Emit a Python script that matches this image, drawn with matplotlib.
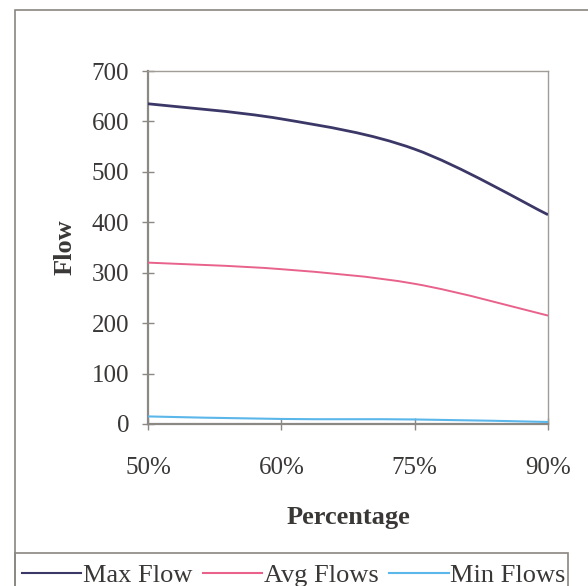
import matplotlib
matplotlib.use("Agg")
import matplotlib.pyplot as plt
from matplotlib.path import Path
from matplotlib.patches import PathPatch, Rectangle
from matplotlib.lines import Line2D

# Flow by percentage
categories = ["50%", "60%", "75%", "90%"]
max_flow = [635, 605, 545, 415]
avg_flows = [320, 307, 278, 215]
min_flows = [15, 10, 9, 4]

series_names = ["Max Flow", "Avg Flows", "Min Flows"]
series_colors = ["#3b3867", "#e8628c", "#5bb6ea"]

plt.rcParams["font.family"] = ["Liberation Serif", "DejaVu Serif"]
text_color = "#3a3836"
axis_color = "#8c8884"

W, H = 588, 586
fig = plt.figure(figsize=(W / 100, H / 100), dpi=100)
fig.patch.set_facecolor("white")

def fx(px):
    return px / W

def fy(py):
    return 1 - py / H

ax = fig.add_axes([fx(148), fy(424), fx(548) - fx(148), fy(71) - fy(424)])


def smooth_path(xs, ys, t=1 / 6):
    """Cubic Bezier through the points (Catmull-Rom style control points)."""
    n = len(xs)
    verts = [(xs[0], ys[0])]
    codes = [Path.MOVETO]
    for i in range(n - 1):
        x0, y0 = xs[max(i - 1, 0)], ys[max(i - 1, 0)]
        x1, y1 = xs[i], ys[i]
        x2, y2 = xs[i + 1], ys[i + 1]
        x3, y3 = xs[min(i + 2, n - 1)], ys[min(i + 2, n - 1)]
        c1 = (x1 + (x2 - x0) * t, y1 + (y2 - y0) * t)
        c2 = (x2 - (x3 - x1) * t, y2 - (y3 - y1) * t)
        verts += [c1, c2, (x2, y2)]
        codes += [Path.CURVE4] * 3
    return Path(verts, codes)


xs = list(range(len(categories)))
for vals, color, lw in zip([max_flow, avg_flows, min_flows], series_colors, [2.0, 1.4, 1.5]):
    patch = PathPatch(smooth_path(xs, vals), facecolor="none", edgecolor=color,
                      lw=lw, zorder=3)
    ax.add_patch(patch)

ax.set_xlim(0, 3)
ax.set_ylim(0, 700)
ax.set_xticks(xs)
ax.set_xticklabels(categories)
ax.set_yticks(range(0, 701, 100))

for side in ["top", "right"]:
    ax.spines[side].set_color("#a09c98")
    ax.spines[side].set_linewidth(1.0)
for side in ["left", "bottom"]:
    ax.spines[side].set_color(axis_color)
    ax.spines[side].set_linewidth(1.6)

ax.tick_params(axis="both", direction="inout", length=9, width=1.0,
               color=axis_color, labelsize=18, labelcolor=text_color)
ax.tick_params(axis="x", pad=19)
ax.tick_params(axis="y", pad=9)

ax.set_ylabel("Flow", fontsize=19, fontweight="bold", color=text_color, labelpad=11)
ax.set_xlabel("Percentage", fontsize=19, fontweight="bold", color=text_color, labelpad=20)

# Chart border and legend box
fig.add_artist(Rectangle((fx(15), fy(600)), fx(620) - fx(15), fy(10) - fy(600),
                         transform=fig.transFigure, facecolor="none",
                         edgecolor="#8a8682", lw=1.2, clip_on=False))
fig.add_artist(Rectangle((fx(15), fy(600)), fx(568) - fx(15), fy(553) - fy(600),
                         transform=fig.transFigure, facecolor="none",
                         edgecolor="#8a8682", lw=1.2, clip_on=False))

handles = [Line2D([], [], color=c, lw=1.5) for c in series_colors]
leg = fig.legend(handles, series_names, loc="center left",
                 bbox_to_anchor=(fx(22), fy(575)), ncol=3, frameon=False,
                 fontsize=19, handlelength=2.25, handletextpad=0.06,
                 columnspacing=0.4, borderaxespad=0, borderpad=0)
for txt in leg.get_texts():
    txt.set_color(text_color)

fig.savefig("out.png", dpi=100, facecolor="white")
